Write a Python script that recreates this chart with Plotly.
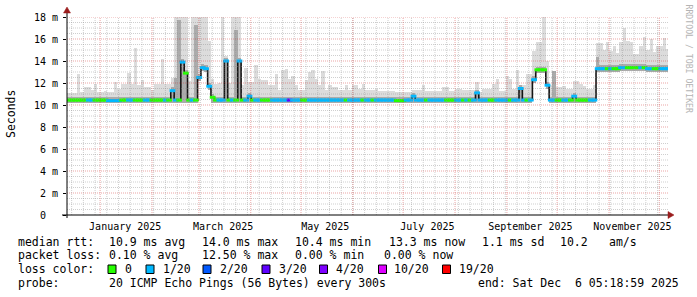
import numpy as np
import pandas as pd
import plotly.graph_objects as go

# ---------------- data ----------------
START_TIME = "2024-12-12 05:18:59"
END_TIME = "2025-12-06 05:18:59"
BIN_DAYS = 2  # one sample every two days

median_ms = [
    10.45, 10.45, 10.45, 10.45, 10.45, 10.45, 10.45, 10.45, 10.45, 10.45,
    10.45, 10.45, 10.4, 10.4, 10.4, 10.4, 10.45, 10.45, 10.45, 10.45,
    10.45, 10.45, 10.45, 10.45, 10.45, 10.45, 10.45, 10.45, 10.45, 10.45,
    10.45, 11.3, 10.45, 10.45, 13.9, 12.9, 10.45, 10.45, 10.45, 12.5,
    13.4, 13.3, 11.7, 10.7, 10.45, 10.45, 10.45, 14.0, 10.45, 10.45,
    10.45, 14.0, 10.45, 10.45, 10.8, 10.45, 10.45, 10.45, 10.45, 10.45,
    10.45, 10.45, 10.45, 10.45, 10.45, 10.45, 10.45, 10.45, 10.45, 10.45,
    10.45, 10.45, 10.45, 10.45, 10.45, 10.45, 10.45, 10.45, 10.45, 10.45,
    10.45, 10.45, 10.45, 10.45, 10.45, 10.45, 10.45, 10.45, 10.45, 10.45,
    10.45, 10.45, 10.45, 10.45, 10.45, 10.45, 10.45, 10.45, 10.4, 10.4,
    10.4, 10.45, 10.45, 10.8, 10.45, 10.45, 10.45, 10.45, 10.45, 10.45,
    10.45, 10.45, 10.45, 10.45, 10.45, 10.45, 10.45, 10.45, 10.45, 10.45,
    10.45, 10.45, 11.1, 10.45, 10.45, 10.45, 10.45, 10.45, 10.45, 10.45,
    10.45, 10.45, 10.45, 10.45, 10.45, 11.5, 10.45, 10.45, 10.45, 12.3,
    13.2, 13.2, 13.2, 11.8, 10.45, 10.45, 10.45, 10.45, 10.45, 10.45,
    10.45, 10.8, 10.45, 10.45, 10.45, 10.45, 10.45, 10.45, 13.3, 13.3,
    13.3, 13.3, 13.3, 13.3, 13.3, 13.4, 13.4, 13.4, 13.4, 13.4,
    13.4, 13.4, 13.4, 13.3, 13.3, 13.3, 13.3, 13.3, 13.3, 13.3,
]

smoke_hi = [
    11.1, 11.1, 11.1, 12.8, 11.2, 11.6, 11.6, 11.4, 11.9, 11.2,
    11.2, 11.3, 11.2, 11.2, 12.1, 11.5, 11.9, 11.9, 12.9, 11.9,
    15.2, 11.8, 12.3, 11.6, 11.6, 11.4, 11.9, 11.9, 14.2, 11.9,
    11.9, 12.5, 18.0, 18.0, 18.0, 18.0, 12.2, 18.0, 18.0, 18.0,
    18.0, 18.0, 15.8, 12.4, 11.9, 12.0, 18.0, 14.5, 12.0, 18.0,
    18.0, 18.0, 11.8, 13.4, 12.1, 12.1, 13.6, 12.4, 12.3, 12.3,
    11.8, 11.8, 12.8, 11.4, 13.2, 13.3, 12.4, 12.6, 11.8, 11.4,
    11.4, 12.3, 13.0, 13.2, 12.4, 11.8, 13.1, 11.4, 11.8, 11.6,
    11.6, 11.4, 11.4, 11.8, 11.4, 11.8, 11.8, 11.5, 11.9, 11.4,
    11.4, 11.4, 11.5, 11.3, 11.3, 11.3, 11.3, 11.3, 11.2, 11.2,
    11.2, 11.2, 11.2, 11.4, 11.4, 11.4, 11.8, 11.3, 11.3, 11.3,
    11.3, 11.3, 11.6, 11.6, 11.3, 11.3, 11.5, 11.5, 11.4, 11.4,
    11.4, 11.4, 12.1, 11.2, 11.5, 11.5, 11.5, 11.9, 12.4, 11.3,
    11.3, 12.6, 12.4, 11.5, 13.2, 11.8, 11.8, 12.8, 12.8, 14.9,
    15.7, 15.7, 18.0, 14.0, 11.8, 13.1, 11.6, 11.6, 11.7, 11.5,
    11.5, 12.2, 12.2, 11.9, 11.7, 11.5, 11.5, 11.8, 15.6, 15.6,
    15.0, 15.7, 14.9, 15.4, 14.7, 15.7, 17.0, 15.8, 15.7, 14.6,
    14.6, 15.4, 16.2, 15.0, 16.0, 14.8, 15.4, 15.4, 16.1, 15.1,
]

smoke_mid = [
    10.75, 10.75, 10.75, 10.75, 10.75, 10.75, 10.75, 10.75, 10.75, 10.75,
    10.75, 10.75, 10.7, 10.7, 10.7, 10.7, 10.75, 10.75, 10.75, 10.75,
    10.75, 10.75, 10.75, 10.75, 10.75, 10.75, 10.75, 10.75, 10.75, 10.75,
    10.75, 11.6, 12.5, 17.7, 14.2, 13.2, 10.75, 10.75, 17.3, 12.8,
    13.7, 13.6, 12.0, 11.0, 10.75, 10.75, 10.75, 14.3, 10.75, 10.75,
    16.8, 14.3, 10.75, 10.75, 11.1, 10.75, 10.75, 10.75, 10.75, 10.75,
    10.75, 10.75, 10.75, 10.75, 10.75, 10.75, 10.75, 10.75, 10.75, 10.75,
    10.75, 10.75, 10.75, 10.75, 10.75, 10.75, 10.75, 10.75, 10.75, 10.75,
    10.75, 10.75, 10.75, 10.75, 10.75, 10.75, 10.75, 10.75, 10.75, 10.75,
    10.75, 10.75, 10.75, 10.75, 10.75, 10.75, 10.75, 10.75, 10.7, 10.7,
    10.7, 10.75, 10.75, 11.1, 10.75, 10.75, 10.75, 10.75, 10.75, 10.75,
    10.75, 10.75, 10.75, 10.75, 10.75, 10.75, 10.75, 10.75, 10.75, 10.75,
    10.75, 10.75, 11.4, 10.75, 10.75, 10.75, 10.75, 10.75, 10.75, 10.75,
    10.75, 10.75, 10.75, 10.75, 10.75, 11.8, 10.75, 10.75, 10.75, 12.6,
    13.5, 13.5, 13.5, 12.1, 10.75, 13.1, 10.75, 10.75, 10.75, 10.75,
    10.75, 11.1, 10.75, 10.75, 10.75, 10.75, 10.75, 10.75, 14.4, 13.6,
    13.6, 13.6, 13.6, 13.6, 13.6, 13.7, 13.7, 13.7, 13.7, 13.7,
    13.7, 13.7, 13.7, 13.6, 13.6, 13.6, 13.6, 13.6, 13.6, 13.6,
]

smoke_lo = [
    10.2, 10.2, 10.2, 10.2, 10.2, 10.2, 10.2, 10.2, 10.2, 10.2,
    10.2, 10.2, 10.15, 10.15, 10.15, 10.15, 10.2, 10.2, 10.2, 10.2,
    10.2, 10.2, 10.2, 10.2, 10.2, 10.2, 10.2, 10.2, 10.2, 10.2,
    10.2, 10.2, 10.2, 10.2, 10.2, 10.2, 10.2, 10.2, 10.2, 12.2,
    13.1, 13.0, 11.4, 10.2, 10.2, 10.2, 10.2, 10.2, 10.2, 10.2,
    10.2, 10.2, 10.2, 10.2, 10.2, 10.2, 10.2, 10.2, 10.2, 10.2,
    10.2, 10.2, 10.2, 10.2, 10.2, 10.2, 10.2, 10.2, 10.2, 10.2,
    10.2, 10.2, 10.2, 10.2, 10.2, 10.2, 10.2, 10.2, 10.2, 10.2,
    10.2, 10.2, 10.2, 10.2, 10.2, 10.2, 10.2, 10.2, 10.2, 10.2,
    10.2, 10.2, 10.2, 10.2, 10.2, 10.2, 10.2, 10.2, 10.15, 10.15,
    10.15, 10.2, 10.2, 10.2, 10.2, 10.2, 10.2, 10.2, 10.2, 10.2,
    10.2, 10.2, 10.2, 10.2, 10.2, 10.2, 10.2, 10.2, 10.2, 10.2,
    10.2, 10.2, 10.2, 10.2, 10.2, 10.2, 10.2, 10.2, 10.2, 10.2,
    10.2, 10.2, 10.2, 10.2, 10.2, 10.2, 10.2, 10.2, 10.2, 12.0,
    12.9, 12.9, 12.9, 11.5, 10.2, 10.2, 10.2, 10.2, 10.2, 10.2,
    10.2, 10.2, 10.2, 10.2, 10.2, 10.2, 10.2, 10.2, 13.0, 13.0,
    13.0, 13.0, 13.0, 13.0, 13.0, 13.1, 13.1, 13.1, 13.1, 13.1,
    13.1, 13.1, 13.1, 13.0, 13.0, 13.0, 13.0, 13.0, 13.0, 13.0,
]

# index into LOSS_LABELS / LOSS_COLORS for each sample
loss_idx = [
    0, 0, 0, 0, 0, 0, 1, 1, 0, 0,
    0, 0, 1, 1, 1, 1, 0, 0, 1, 1,
    0, 0, 0, 1, 1, 0, 0, 0, 0, 1,
    0, 1, 1, 0, 1, 0, 0, 1, 0, 1,
    1, 1, 1, 0, 0, 1, 1, 1, 0, 1,
    0, 1, 0, 1, 1, 0, 1, 1, 0, 0,
    0, 1, 1, 1, 1, 1, 3, 1, 1, 1,
    0, 0, 1, 1, 1, 1, 1, 1, 1, 1,
    1, 1, 1, 0, 1, 1, 1, 1, 0, 1,
    1, 0, 1, 1, 1, 1, 1, 1, 0, 0,
    0, 1, 1, 1, 1, 1, 1, 0, 1, 1,
    1, 1, 1, 0, 0, 0, 1, 1, 0, 1,
    0, 1, 1, 1, 1, 1, 0, 0, 1, 1,
    1, 1, 0, 1, 1, 1, 1, 0, 1, 1,
    0, 0, 0, 1, 1, 1, 0, 0, 1, 1,
    0, 1, 0, 0, 0, 0, 1, 1, 1, 1,
    1, 0, 1, 0, 0, 1, 1, 0, 0, 0,
    0, 1, 0, 1, 1, 0, 0, 1, 1, 1,
]

LOSS_LABELS = ["0", "1/20", "2/20", "3/20", "4/20", "10/20", "19/20"]
LOSS_COLORS = ["#26ff00", "#00b8ff", "#0059ff", "#5e00ff", "#7e00ff", "#dd00ff", "#ff0000"]

Y_TICKS = [0, 2, 4, 6, 8, 10, 12, 14, 16, 18]
Y_TICK_TEXT = ["0\u00a0\u00a0", "2 m", "4 m", "6 m", "8 m", "10 m", "12 m", "14 m", "16 m", "18 m"]

MONTH_LABEL_DATES = ["2025-01-16 00:00", "2025-03-15 12:00", "2025-05-15 12:00",
                     "2025-07-15 12:00", "2025-09-15 00:00", "2025-11-15 00:00"]
MONTH_LABELS = ["January 2025", "March 2025", "May 2025", "July 2025",
                "September 2025", "November 2025"]

MEDIAN_STATS = ["10.9 ms avg", "14.0 ms max", "10.4 ms min", "13.3 ms now", "1.1 ms sd", "10.2", "am/s"]
LOSS_STATS = ["0.10 % avg", "12.50 % max", "0.00 % min", "0.00 % now"]
PROBE_TEXT = "20 ICMP Echo Pings (56 Bytes) every 300s"
END_TEXT = "end: Sat Dec  6 05:18:59 2025"

# ---------------- layout helpers (pixel -> paper) ----------------
W, H = 697, 297
PL, PR, PT, PB = 67, 668, 17, 215


def px(x):
    return (x - PL) / (PR - PL)


def py(y):
    return (PB - y) / (PB - PT)


MONO = "DejaVu Sans Mono"

n = len(median_ms)
starts = pd.date_range(START_TIME, periods=n, freq=f"{BIN_DAYS}D")
centers = starts + pd.Timedelta(days=BIN_DAYS / 2)
bar_w = BIN_DAYS * 86400000 * 1.04
bin_px = (PR - PL) * BIN_DAYS / 359.0

fig = go.Figure()

# light smoke (min .. max)
fig.add_trace(go.Bar(
    x=centers, base=smoke_lo, y=[h - l for h, l in zip(smoke_hi, smoke_lo)],
    width=bar_w, marker=dict(color="#dcdcdc", line=dict(width=0)), hoverinfo="skip"))
# darker smoke near median
fig.add_trace(go.Bar(
    x=centers, base=smoke_lo, y=[h - l for h, l in zip(smoke_mid, smoke_lo)],
    width=bar_w, marker=dict(color="#ababab", line=dict(width=0)), hoverinfo="skip"))
# median connecting line
fig.add_trace(go.Scatter(
    x=centers, y=median_ms, mode="lines",
    line=dict(color="#151515", width=1.6, shape="hvh"), hoverinfo="skip"))
# loss-coloured median segments (horizontal dashes, one per sample)
fig.add_trace(go.Scatter(
    x=centers, y=median_ms, mode="markers", hoverinfo="skip",
    marker=dict(symbol="line-ew", size=bin_px + 0.8,
                line=dict(width=3, color=[LOSS_COLORS[k] for k in loss_idx]))))
# helper trace so the label axis is drawn
fig.add_trace(go.Scatter(x=[START_TIME, END_TIME], y=[None, None], xaxis="x2",
                         mode="lines", hoverinfo="skip"))

# ---------------- grid (drawn on top, as rrdtool does) ----------------
shapes = []
MINOR_C = "rgba(140,140,140,0.42)"
MAJOR_C = "rgba(205,40,40,0.42)"
for v in np.arange(0.5, 18.01, 0.5):
    major = abs(v % 2) < 1e-9
    shapes.append(dict(type="line", xref="paper", yref="y", x0=0, x1=1, y0=v, y1=v,
                       layer="above",
                       line=dict(color=MAJOR_C if major else MINOR_C, width=1, dash="1px,1px")))
for d in pd.date_range("2024-12-15", END_TIME, freq="7D"):
    shapes.append(dict(type="line", xref="x", yref="paper", x0=d, x1=d, y0=0, y1=1,
                       layer="above", line=dict(color=MINOR_C, width=1, dash="1px,1px")))
for d in pd.date_range("2025-01-01", END_TIME, freq="MS"):
    shapes.append(dict(type="line", xref="x", yref="paper", x0=d, x1=d, y0=0, y1=1,
                       layer="above", line=dict(color=MAJOR_C, width=1, dash="1px,1px")))

# axes lines + arrows
AX_C = "#000000"
ARROW_C = "#9a1c1c"
shapes.append(dict(type="line", xref="paper", yref="paper", x0=px(62), x1=px(670),
                   y0=0, y1=0, layer="above", line=dict(color=AX_C, width=1)))
shapes.append(dict(type="line", xref="paper", yref="paper", x0=0, x1=0,
                   y0=py(218), y1=py(12), layer="above", line=dict(color=AX_C, width=1)))
shapes.append(dict(type="path", xref="paper", yref="paper", layer="above",
                   path=f"M{px(668)},{py(211.5)} L{px(674)},{py(215)} L{px(668)},{py(218.5)} Z",
                   fillcolor=ARROW_C, line=dict(color=ARROW_C, width=0.5)))
shapes.append(dict(type="path", xref="paper", yref="paper", layer="above",
                   path=f"M{px(63.5)},{py(13)} L{px(67)},{py(7)} L{px(70.5)},{py(13)} Z",
                   fillcolor=ARROW_C, line=dict(color=ARROW_C, width=0.5)))

# ---------------- legend text ----------------
annotations = []
FS = 11.5


def txt(s, x, y, anchor="left", size=FS, color="#000000", angle=0, family=MONO):
    annotations.append(dict(text=s.replace(" ", "\u00a0"), x=px(x), y=py(y),
                            xref="paper", yref="paper", xanchor=anchor, yanchor="middle",
                            showarrow=False, textangle=angle,
                            font=dict(family=family, size=size, color=color)))


ROW_Y = [241.7, 255.2, 268.9, 282.8]
txt("median rtt:", 16, ROW_Y[0])
for s, x in zip(MEDIAN_STATS, [107.3, 200, 293.3, 386.7, 480, 558.3, 606.7]):
    txt(s, x, ROW_Y[0])
txt("packet loss:", 16, ROW_Y[1])
for s, x in zip(LOSS_STATS, [107.3, 200, 293.3, 381.7]):
    txt(s, x, ROW_Y[1])
txt("loss color:", 16, ROW_Y[2])
BOX_X = [108, 146, 203, 262, 319.5, 378.5, 442.5]
LBL_X = [123, 160.5, 218, 276.5, 334, 392, 456.5]
for lab, col, bx, lx in zip(LOSS_LABELS, LOSS_COLORS, BOX_X, LBL_X):
    shapes.append(dict(type="rect", xref="paper", yref="paper",
                       x0=px(bx), x1=px(bx + 8), y0=py(273.5), y1=py(265),
                       fillcolor=col, line=dict(color="#000000", width=1)))
    txt(lab, lx, ROW_Y[2])
txt("probe:", 16, ROW_Y[3])
txt(PROBE_TEXT, 107.3, ROW_Y[3])
txt(END_TEXT, 681, ROW_Y[3], anchor="right")

# axis title and watermark
txt("Seconds", 11, 114, anchor="center", size=11.5, angle=-90)
txt("RRDTOOL / TOBI OETIKER", 688.5, 59, anchor="center", size=8.2, color="#b4b4b4", angle=90)

fig.update_layout(
    width=W, height=H,
    margin=dict(l=PL, r=W - PR, t=PT, b=H - PB),
    paper_bgcolor="white", plot_bgcolor="white",
    showlegend=False, barmode="overlay", bargap=0,
    xaxis=dict(type="date", range=[START_TIME, END_TIME], showgrid=False,
               showticklabels=False, ticks="", showline=False, zeroline=False),
    xaxis2=dict(type="date", range=[START_TIME, END_TIME], overlaying="x", anchor="y",
                side="bottom", tickvals=MONTH_LABEL_DATES, ticktext=MONTH_LABELS,
                showgrid=False, zeroline=False, showline=False, ticks="",
                ticklabelstandoff=4,
                tickfont=dict(family=MONO, size=10, color="#000000")),
    yaxis=dict(range=[0, 18], tickvals=Y_TICKS, ticktext=Y_TICK_TEXT, showgrid=False,
               zeroline=False, showline=False, ticks="outside", ticklen=3,
               tickcolor="#000000", ticklabelstandoff=3,
               tickfont=dict(family=MONO, size=10, color="#000000")),
    shapes=shapes, annotations=annotations,
)

fig.write_html("out.html")
